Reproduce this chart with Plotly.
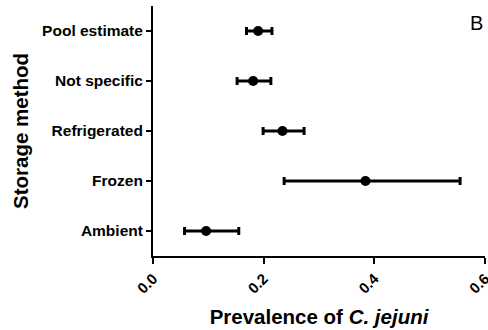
import plotly.graph_objects as go

categories = ["Ambient", "Frozen", "Refrigerated", "Not specific", "Pool estimate"]
estimate = [0.096, 0.384, 0.234, 0.181, 0.190]
lower = [0.057, 0.237, 0.199, 0.152, 0.169]
upper = [0.155, 0.555, 0.273, 0.213, 0.215]

err_plus = [u - e for u, e in zip(upper, estimate)]
err_minus = [e - l for e, l in zip(estimate, lower)]

fig = go.Figure()
fig.add_trace(go.Scatter(
    x=estimate, y=categories, mode="markers",
    marker=dict(color="black", size=10),
    error_x=dict(type="data", array=err_plus, arrayminus=err_minus,
                 color="black", thickness=3, width=4),
    showlegend=False,
    cliponaxis=False,
))

font_family = "Liberation Sans, Arial, sans-serif"
fig.update_layout(
    width=488, height=330,
    margin=dict(l=153, r=3, t=6, b=74),
    paper_bgcolor="white", plot_bgcolor="white",
    font=dict(family=font_family, color="black"),
    xaxis=dict(
        range=[0, 0.6], tickvals=[0, 0.2, 0.4, 0.6], ticktext=["0.0", "0.2", "0.4", "0.6"],
        tickangle=-45, showgrid=False, zeroline=False, automargin=False,
        showline=True, linecolor="black", linewidth=2,
        ticks="outside", ticklen=6, tickwidth=2, tickcolor="black",
        ticklabeloverflow="allow",
        tickfont=dict(size=15, weight="bold", family=font_family),
        title=dict(text="Prevalence of <i>C. jejuni</i>", font=dict(size=20.5, weight="bold", family=font_family), standoff=14),
    ),
    yaxis=dict(
        range=[-0.5, 4.5], showgrid=False, zeroline=False, automargin=False,
        showline=True, linecolor="black", linewidth=2,
        ticks="outside", ticklen=5, tickwidth=2, tickcolor="black",
        tickfont=dict(size=15.5, weight="bold", family=font_family),
        title=dict(text="Storage method", font=dict(size=20.5, weight="bold", family=font_family), standoff=8),
    ),
    annotations=[dict(text="B", xref="paper", yref="paper", x=1.0, y=0.93,
                      xanchor="right", yanchor="middle", showarrow=False,
                      font=dict(size=20, family=font_family, color="black"))],
)

fig.write_html("out.html")
